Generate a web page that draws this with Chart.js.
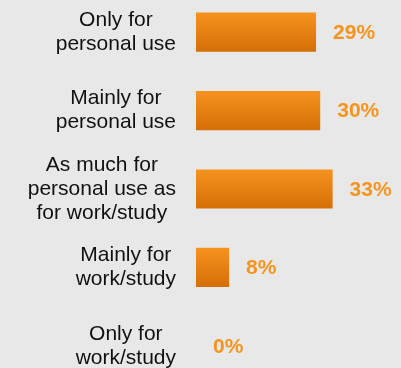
<!DOCTYPE html>
<html lang="en">
<head>
    <meta charset="UTF-8">
    <title>Personal vs work/study use</title>
    <script src="https://cdn.jsdelivr.net/npm/chart.js"></script>
    <style>
        html, body {
            margin: 0;
            padding: 0;
            width: 401px;
            height: 368px;
            overflow: hidden;
            background: #e8e8e8;
        }
        .grafico {
            position: absolute;
            left: 0;
            top: -7px;
        }
    </style>
</head>
<body>
    <div class="grafico">
        <canvas id="usoCanvas" width="403" height="392"></canvas>
    </div>
</body>
</html>
<script>
    // categorias (uma linha por item do array) e percentuais
    const categorias = [
        ["Only for", "personal use"],
        ["Mainly for", "personal use"],
        ["As much for", "personal use as", "for work/study"],
        ["Mainly for", "work/study"],
        ["Only for", "work/study"]
    ];
    const percentuais = [29, 30, 33, 8, 0];
    const rotulos = percentuais.map(v => v + '%');

    const fonte = '"Liberation Sans", Arial, sans-serif';

    // degradê vertical para cada barra
    function corBarra(context) {
        const chart = context.chart;
        if (!chart.chartArea || !chart.scales.y) return '#e8821a';
        const centro = chart.scales.y.getPixelForValue(context.dataIndex);
        const g = chart.ctx.createLinearGradient(0, centro - 20, 0, centro + 20);
        g.addColorStop(0, '#f7931f');
        g.addColorStop(1, '#d46e06');
        return g;
    }

    // rótulos do eixo: cada bloco centrado nele mesmo, alinhado à direita
    const rotulosEixo = {
        id: 'rotulosEixo',
        afterDraw(chart) {
            const ctx = chart.ctx;
            const y = chart.scales.y;
            const direita = 176;
            const alturaLinha = 24;
            ctx.save();
            ctx.font = '21px ' + fonte;
            ctx.fillStyle = '#111111';
            ctx.textAlign = 'center';
            ctx.textBaseline = 'middle';
            categorias.forEach(function (linhas, i) {
                const largura = Math.max(...linhas.map(l => ctx.measureText(l).width));
                const cx = direita - largura / 2;
                const cy = y.getPixelForTick(i);
                linhas.forEach(function (linha, j) {
                    ctx.fillText(linha, cx, cy + (j - (linhas.length - 1) / 2) * alturaLinha);
                });
            });
            ctx.restore();
        }
    };

    // valor em % à direita de cada barra
    const valores = {
        id: 'valores',
        afterDatasetsDraw(chart) {
            const ctx = chart.ctx;
            const meta = chart.getDatasetMeta(0);
            ctx.save();
            ctx.font = 'bold 21px ' + fonte;
            ctx.fillStyle = '#f7941d';
            ctx.textAlign = 'left';
            ctx.textBaseline = 'middle';
            meta.data.forEach(function (barra, i) {
                ctx.fillText(rotulos[i], barra.x + 17, barra.y + 1);
            });
            ctx.restore();
        }
    };

    const config = {
        type: 'bar',
        data: {
            labels: categorias,
            datasets: [{
                data: percentuais,
                backgroundColor: corBarra,
                borderWidth: 0,
                categoryPercentage: 1,
                barPercentage: 0.5
            }]
        },
        options: {
            indexAxis: 'y',
            responsive: false,
            animation: false,
            layout: { padding: 0 },
            plugins: {
                legend: { display: false },
                tooltip: { enabled: false }
            },
            scales: {
                x: {
                    display: false,
                    min: 0,
                    max: 50
                },
                y: {
                    grid: { display: false },
                    border: { display: false },
                    ticks: { display: false },
                    afterFit(scale) { scale.width = 196; }
                }
            }
        },
        plugins: [rotulosEixo, valores]
    };

    new Chart(document.getElementById('usoCanvas'), config);
</script>
